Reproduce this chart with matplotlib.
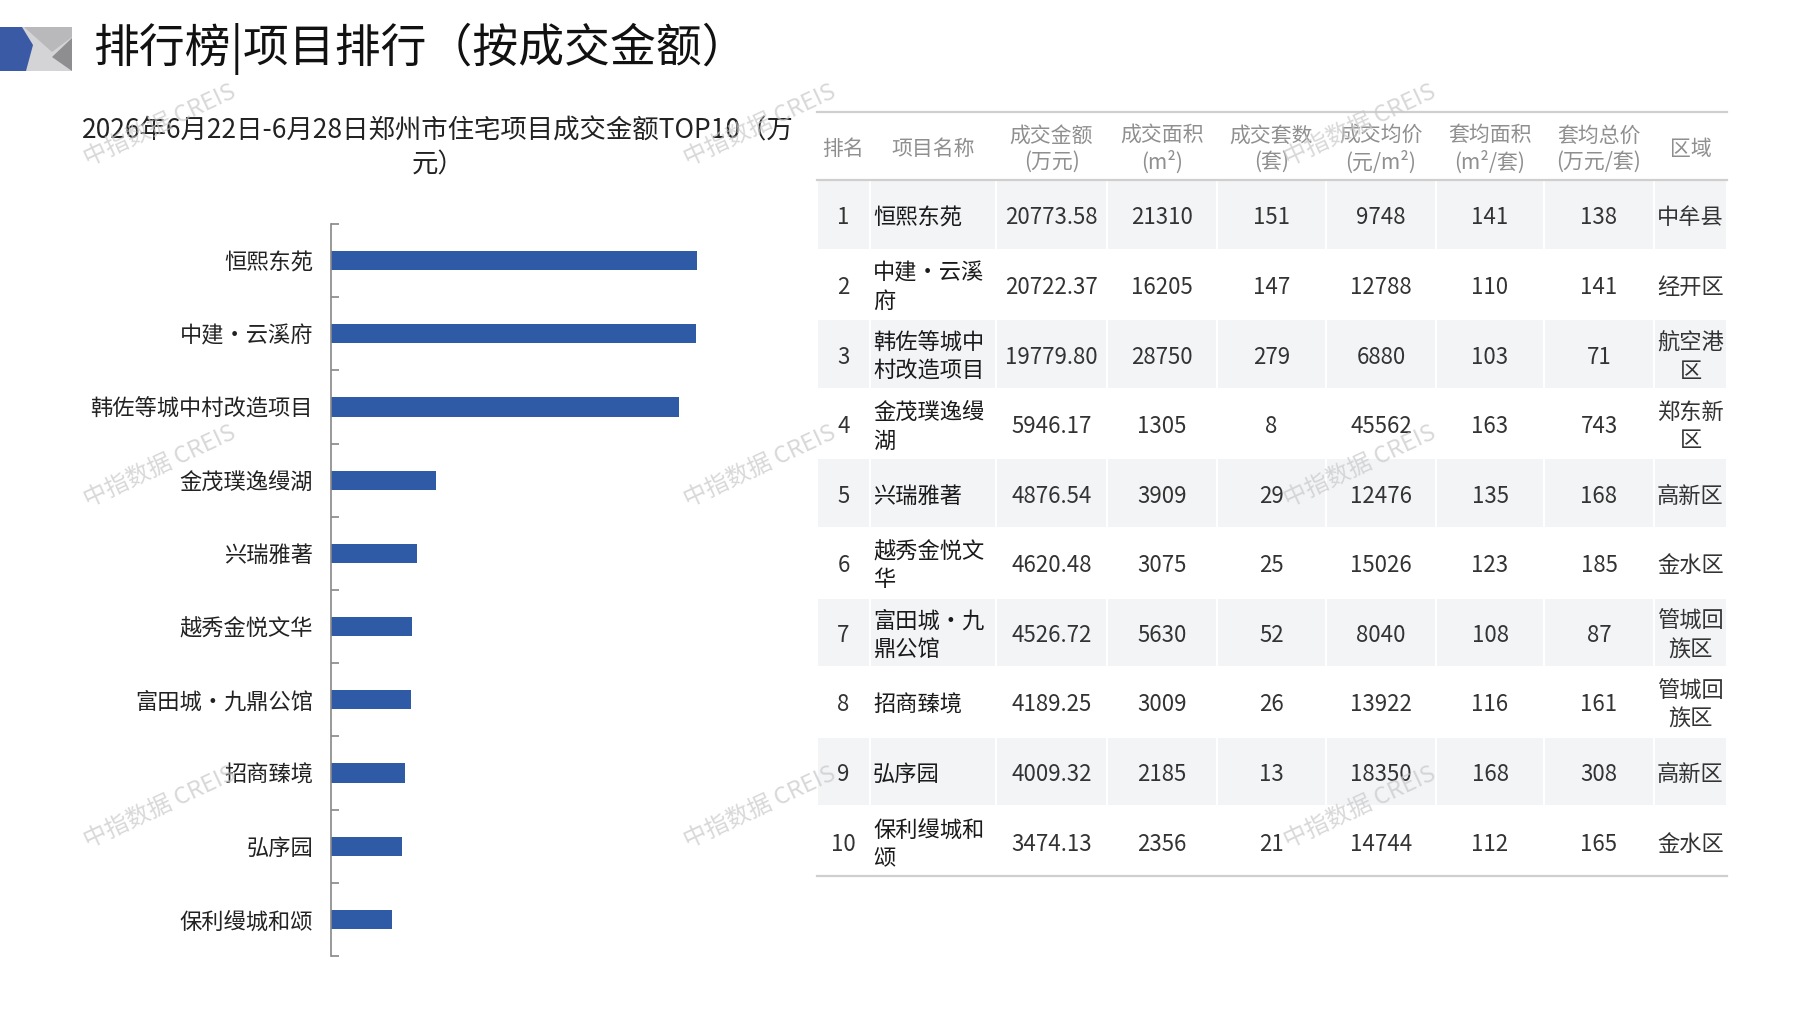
import matplotlib.pyplot as plt
from matplotlib.patches import Rectangle, Polygon

plt.rcParams['font.family'] = ['Noto Sans CJK SC', 'DejaVu Sans']

# data
projects = ['恒熙东苑', '中建•云溪府', '韩佐等城中村改造项目', '金茂璞逸缦湖', '兴瑞雅著',
            '越秀金悦文华', '富田城•九鼎公馆', '招商臻境', '弘序园', '保利缦城和颂']
amounts = [20773.58, 20722.37, 19779.80, 5946.17, 4876.54, 4620.48, 4526.72, 4189.25, 4009.32, 3474.13]
areas = [21310, 16205, 28750, 1305, 3909, 3075, 5630, 3009, 2185, 2356]
units = [151, 147, 279, 8, 29, 25, 52, 26, 13, 21]
avg_price = [9748, 12788, 6880, 45562, 12476, 15026, 8040, 13922, 18350, 14744]
avg_area = [141, 110, 103, 163, 135, 123, 108, 116, 168, 112]
avg_total = [138, 141, 71, 743, 168, 185, 87, 161, 308, 165]
regions = ['中牟县', '经开区', '航空港区', '郑东新区', '高新区', '金水区', '管城回族区', '管城回族区', '高新区', '金水区']
headers = ['排名', '项目名称', '成交金额\n(万元)', '成交面积\n(m²)', '成交套数\n(套)', '成交均价\n(元/m²)',
           '套均面积\n(m²/套)', '套均总价\n(万元/套)', '区域']

W, H = 1797, 1010
fig = plt.figure(figsize=(W / 100, H / 100), dpi=100)
fig.patch.set_facecolor('white')

# page layer in pixel coordinates
page = fig.add_axes([0, 0, 1, 1])
page.set_xlim(0, W)
page.set_ylim(H, 0)
page.axis('off')

# logo
page.add_patch(Rectangle((0, 27), 72, 44, color='#d4d4d6', lw=0))
page.add_patch(Polygon([(24, 27), (72, 27), (72, 37), (52, 52)], color='#b9b9bb', lw=0))
page.add_patch(Polygon([(72, 38), (72, 71), (52, 57)], color='#8e8e90', lw=0))
page.add_patch(Polygon([(0, 27), (22, 27), (33, 45), (26, 71), (0, 71)], color='#3b5aa6', lw=0))

page.text(93, 49, '排行榜|项目排行（按成交金额）', fontsize=33, color='#111111', va='center', ha='left')
page.text(438, 148, '2026年6月22日-6月28日郑州市住宅项目成交金额TOP10（万\n元）', fontsize=19,
          color='#222222', ha='center', va='center', linespacing=1.3)

# bar chart
ax = fig.add_axes([331 / W, 1 - 956 / H, 469 / W, (956 - 224) / H])
ax.patch.set_visible(False)
ypos = list(range(len(projects)))
ax.barh(ypos, amounts, height=0.26, color='#2f5aa6')
ax.set_xlim(0, 26620)
ax.set_ylim(len(projects) - 0.5, -0.5)
ax.set_yticks(ypos)
ax.set_yticklabels(projects, fontsize=16, color='#222222')
ax.set_yticks([i - 0.5 for i in range(len(projects) + 1)], minor=True)
ax.tick_params(axis='y', which='major', length=0, pad=13)
ax.tick_params(axis='y', which='minor', length=6, direction='in', color='#888888', width=1.2)
ax.set_xticks([])
for s in ['top', 'right', 'bottom']:
    ax.spines[s].set_visible(False)
ax.spines['left'].set_color('#888888')
ax.spines['left'].set_linewidth(1.2)

# table
edges = [817, 870, 996, 1107, 1217, 1326, 1436, 1544, 1654, 1727]
head_top, head_bot, row_h = 112, 180, 69.6
for j, h in enumerate(headers):
    cx = (edges[j] + edges[j + 1]) / 2
    page.text(cx, (head_top + head_bot) / 2 + 3, h, fontsize=15, color='#8f8f8f',
              ha='center', va='center', linespacing=1.25)
page.plot([edges[0], edges[-1]], [head_top, head_top], color='#cfcfcf', lw=1.6)
page.plot([edges[0], edges[-1]], [head_bot, head_bot], color='#cfcfcf', lw=1.6)


def wrap(s, n):
    return '\n'.join(s[i:i + n] for i in range(0, len(s), n))


for i in range(len(projects)):
    top = head_bot + i * row_h
    cy = top + row_h / 2 + 3
    if i % 2 == 0:
        for j in range(len(edges) - 1):
            page.add_patch(Rectangle((edges[j] + 1, top + 1), edges[j + 1] - edges[j] - 2, row_h - 2,
                                     color='#f3f4f6', lw=0))
    cells = [str(i + 1), wrap(projects[i], 5), f'{amounts[i]:.2f}', str(areas[i]), str(units[i]),
             str(avg_price[i]), str(avg_area[i]), str(avg_total[i]), wrap(regions[i], 3)]
    for j, c in enumerate(cells):
        if j == 1:
            page.text(edges[j] + 3, cy, c, fontsize=16, color='#1a1a1a', ha='left', va='center',
                      linespacing=1.3, fontweight='medium')
        else:
            cx = (edges[j] + edges[j + 1]) / 2
            page.text(cx, cy, c, fontsize=16, color='#333333', ha='center', va='center',
                      linespacing=1.3)
page.plot([edges[0], edges[-1]], [head_bot + 10 * row_h] * 2, color='#cfcfcf', lw=1.6)

# watermarks on top
mark = fig.add_axes([0, 0, 1, 1])
mark.set_xlim(0, W)
mark.set_ylim(H, 0)
mark.axis('off')
for wx in [160, 760, 1360]:
    for wy in [125, 466, 807]:
        mark.text(wx, wy, '中指数据 CREIS', fontsize=17, color='#c8c8c8', alpha=0.7,
                  rotation=25, ha='center', va='center')

fig.savefig('out.png', dpi=100)
